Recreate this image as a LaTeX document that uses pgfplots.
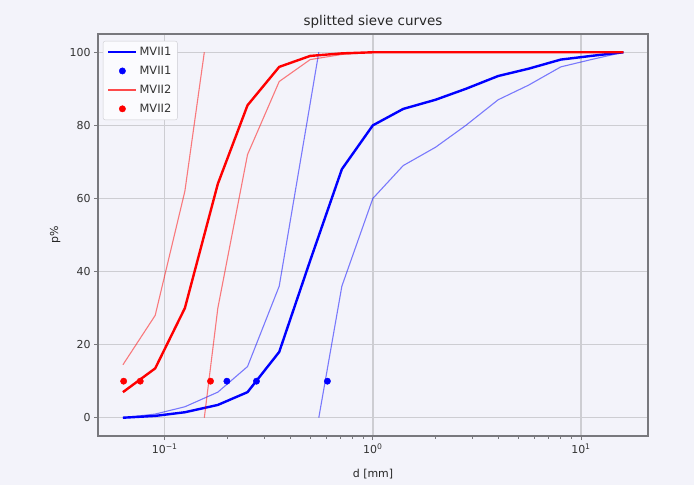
\documentclass[border=0pt]{standalone}
\usepackage{fontspec}
\setmainfont{DejaVu Sans}
\usepackage{pgfplots}
\pgfplotsset{compat=1.18}
\definecolor{bgc}{RGB}{243,243,250}
\definecolor{legc}{RGB}{251,251,254}
\definecolor{gridc}{RGB}{205,205,210}
\definecolor{spinec}{RGB}{120,120,125}
\definecolor{mblue}{RGB}{0,0,255}
\definecolor{mred}{RGB}{255,0,0}
\begin{document}
\begin{tikzpicture}
\fill[bgc] (0,0) rectangle (694bp,485bp);
\begin{axis}[
  at={(98bp,49bp)}, anchor=south west,
  width=550bp, height=402bp, scale only axis,
  xmode=log,
  xmin=0.0478, xmax=21.0,
  ymin=-5, ymax=105,
  axis background/.style={fill=bgc},
  axis line style={spinec, line width=1.1bp},
  xtick={0.1,1,10},
  xticklabels={10\textsuperscript{−1},10\textsuperscript{0},10\textsuperscript{1}},
  ytick={0,20,40,60,80,100},
  /pgf/number format/assume math mode=true,
  tick align=outside,
  xtick pos=left, ytick pos=left,
  major tick length=4bp, minor tick length=2.5bp,
  tick style={spinec, line width=0.8bp},
  grid=major,
  major grid style={gridc, line width=1.4bp},
  ticklabel style={font=\fontsize{11}{13}\selectfont, text=black!80},
  title={splitted sieve curves},
  title style={at={(0.5,1)}, anchor=base, yshift=3bp, font=\fontsize{13.5}{16}\selectfont, text=black!85},
  xlabel={d [mm]},
  xlabel style={at={(0.5,0)}, anchor=base, yshift=-41bp, font=\fontsize{11}{13}\selectfont, text=black!85},
  ylabel={p\%},
  ylabel style={at={(axis description cs:-0.078,0.5)}, anchor=center, font=\fontsize{11}{13}\selectfont, text=black!85},
  legend style={at={(0,1)}, anchor=north west, xshift=5bp, yshift=-7bp,
    fill=legc, draw=gridc,
    rounded corners=2bp, font=\fontsize{11.5}{13}\selectfont, text=black!80,
    row sep=5bp, inner xsep=4bp, inner ysep=4bp},
  legend cell align=left,
  legend image code/.code={\draw[mark repeat=2,mark phase=2,#1] plot coordinates {(0bp,0bp) (14bp,0bp) (28bp,0bp)};},
]
% MVII1 fine part (thin)
\addplot[mblue, line width=1.1bp, opacity=0.5, forget plot] coordinates {
(0.063,0) (0.09,1) (0.125,3) (0.18,7) (0.25,14) (0.355,36) (0.5,86) (0.55,100)};
% MVII1 coarse part (thin)
\addplot[mblue, line width=1.1bp, opacity=0.5, forget plot] coordinates {
(0.55,0) (0.71,36) (1.0,60) (1.4,69) (2.0,74) (2.8,80) (4.0,87) (5.6,91) (8.0,96) (11.2,98) (16,100)};
% MVII1 total
\addplot[mblue, line width=2.4bp] coordinates {
(0.063,0) (0.09,0.5) (0.125,1.5) (0.18,3.5) (0.25,7) (0.355,18) (0.5,43) (0.71,68) (1.0,80) (1.4,84.5) (2.0,87) (2.8,90) (4.0,93.5) (5.6,95.5) (8.0,98) (11.2,99) (16,100)};
\addlegendentry{MVII1}
\addplot[only marks, mark=*, mark size=3.2bp, draw=mblue, fill=mblue] coordinates {
(0.199,10) (0.276,10) (0.605,10)};
\addlegendentry{MVII1}
% MVII2 fine part (thin)
\addplot[mred, line width=1.1bp, opacity=0.5, forget plot] coordinates {
(0.063,14.5) (0.09,28) (0.125,62) (0.155,100)};
% MVII2 coarse part (thin)
\addplot[mred, line width=1.1bp, opacity=0.5, forget plot] coordinates {
(0.155,0) (0.18,30) (0.25,72) (0.355,92) (0.5,98) (0.71,99.4) (1.0,100) (2.0,100) (4.0,100) (8.0,100) (16,100)};
% MVII2 total
\addplot[mred, line width=2.4bp, forget plot] coordinates {
(0.063,7) (0.09,13.5) (0.125,30) (0.18,64) (0.25,85.5) (0.355,96) (0.5,99) (0.71,99.7) (1.0,100) (1.4,100) (2.0,100) (2.8,100) (4.0,100) (5.6,100) (8.0,100) (11.2,100) (16,100)};
\addlegendimage{mred, line width=2.4bp, opacity=0.7}
\addlegendentry{MVII2}
\addplot[only marks, mark=*, mark size=3.2bp, draw=mred, fill=mred] coordinates {
(0.0635,10) (0.0763,10) (0.166,10)};
\addlegendentry{MVII2}
\end{axis}
\end{tikzpicture}
\end{document}
